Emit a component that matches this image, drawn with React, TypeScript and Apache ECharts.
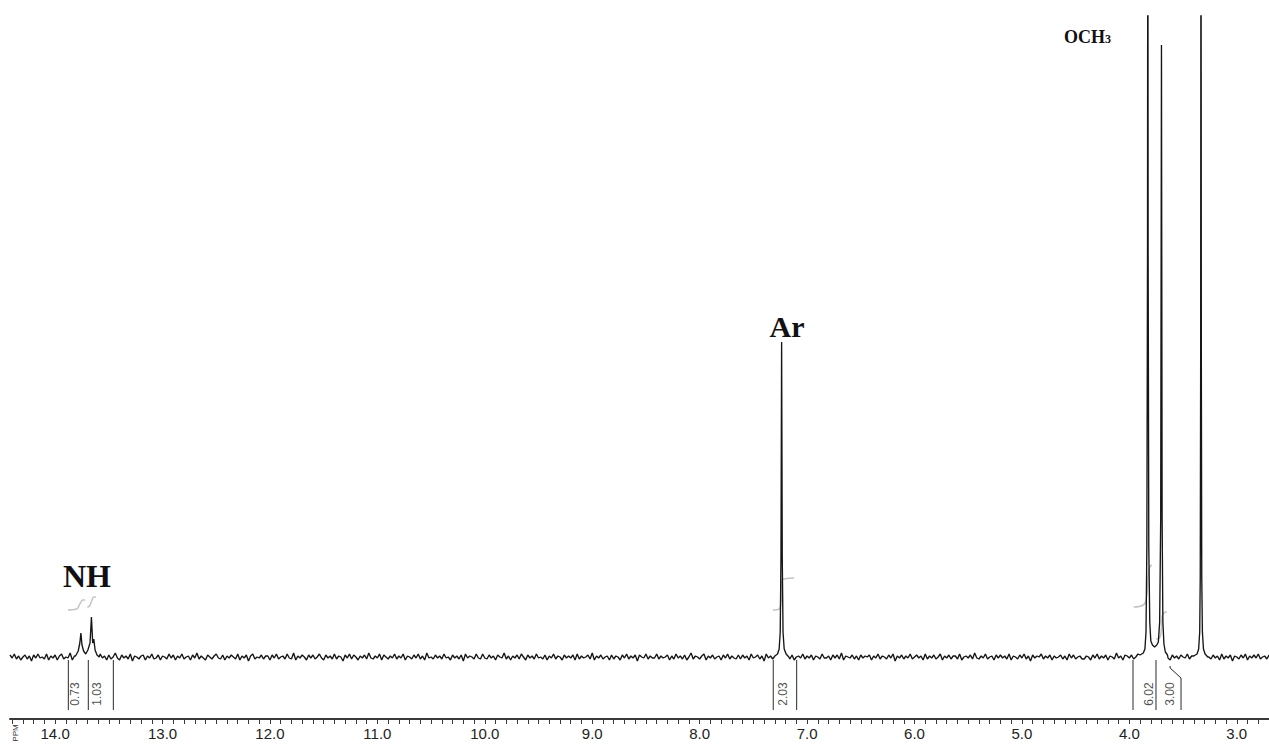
import React, { useEffect, useRef } from "react";
import * as echarts from "echarts";

// ---- axis range (ppm, drawn right-to-left) ----
const PPM_MIN = 2.7;
const PPM_MAX = 14.42;
const majorTickValues = [14, 13, 12, 11, 10, 9, 8, 7, 6, 5, 4, 3];

// ---- baseline noise samples (ppm start / step, intensity values) ----
const NOISE_START = 14.42;
const NOISE_STEP = 0.02;
const baselineNoise = [
  2, -1, 3, -2, 1, -3, 0, 2, -2, 1, -4, 2, -1, 3, -1, 0, -2, 3, -3, 1,
  -1, 2, -3, 1, 3, -2, 0, -1, 4, -3, 1, -2, 2, -1, 0, 3, -2, 1, -3, 2,
  0, -2, 3, -1, 1, -3, 2, -2, 0, 4, -1, -3, 2, -1, 1, -2, 3, -4, 1, 0,
  -2, 1, 2, -3, 1, -1, 3, -2, -1, 2, -3, 1, 0, -2, 3, -1, 2, -3, 1, -1,
  3, -2, 0, 1, -3, 2, -1, 4, -2, 1, -1, -3, 2, 0, -2, 1, 3, -1, -2, 2,
  -3, 1, -1, 2, 0, -2, 3, -3, 1, -1, 2, -4, 1, 3, -2, 0, -1, 2, -2, 1,
  1, -3, 2, -1, 3, -2, 0, 1, -2, 3, -1, -2, 4, -3, 1, -1, 2, 0, -3, 2,
  -1, 2, -2, 0, 3, -1, -3, 2, -1, 1, -2, 3, -2, 1, 0, -4, 2, -1, 3, -2,
  2, 0, -3, 1, -1, 2, -2, 4, -1, -2, 1, -1, 3, -3, 2, 0, -2, 1, -1, 3,
  -2, 1, -1, 3, -3, 1, 0, -2, 2, -1, 3, -2, 1, -3, 4, -1, 0, -2, 2, -1,
  1, -2, 3, -1, 0, -3, 2, -1, 1, -2, 2, -4, 3, -1, 1, 0, -2, 3, -1, -2,
  3, -1, -2, 2, -1, 1, -3, 2, 0, -1, 4, -2, 1, -3, 1, -1, 2, -2, 3, 0,
  -3, 2, -1, 1, -2, 3, -1, 0, -2, 2, -3, 1, -1, 3, -2, 1, 0, -3, 2, -1,
  1, -1, 2, -3, 3, -2, 1, -1, 0, 2, -2, 4, -3, 1, -1, 2, -2, 0, 1, -3,
  2, -2, 1, 0, -3, 2, -1, 3, -2, 1, -1, 2, -4, 2, 0, -1, 3, -2, 1, -1,
  -1, 3, -2, 1, -1, 0, 2, -3, 1, -2, 3, -1, 1, -2, 2, -3, 0, 4, -2, 1,
  0, -2, 1, 3, -3, 1, -1, 2, -2, 0, 1, -3, 2, -1, 3, -2, 1, -1, -2, 2,
  -2, 2, -1, 1, -3, 3, -1, 0, 2, -2, 1, -4, 3, -1, 1, -2, 2, 0, -3, 1,
  3, -1, 1, -2, 2, -3, 0, 1, -1, 3, -2, 1, -1, 2, -3, 1, 0, -2, 3, -1,
  -1, 1, -3, 2, -1, 2, -2, 4, -3, 1, 0, -1, 2, -2, 1, -3, 2, -1, 1, 0,
  2, -3, 1, -1, 3, -2, 1, 0, -2, 2, -1, 3, -4, 1, -1, 2, -2, 1, -1, 3,
  -2, 0, 2, -1, 1, -3, 3, -2, 1, -1, 2, -2, 0, 3, -3, 1, -1, 2, -2, 1,
  1, -2, 3, -3, 0, 1, -1, 2, -2, 4, -1, -2, 1, -1, 3, -2, 0, 1, -3, 2,
  -1, 2, -1, 1, -2, 3, -3, 1, 0, -2, 2, -1, 3, -2, 1, -4, 2, -1, 1, 0,
  3, -2, 1, -1, 2, -3, 1, -1, 0, 2, -2, 1, -3, 3, -1, 2, -2, 0, 1, -2,
  -2, 1, 0, -3, 2, -1, 3, -2, 1, -1, 2, -3, 1, 0, -2, 4, -1, 1, -3, 2,
  1, -1, 2, -2, 0, 3, -3, 1, -1, 2, -2, 1, -1, 3, -2, 0, 2, -3, 1, -1,
  -3, 2, -1, 1, -2, 2, 0, -1, 3, -2, 1, -3, 2, -1, 1, -2, 3, -1, 0, -2,
  2, -1, 1, -3, 3, -2, 1, -1, 2, -4, 1, 0, -2, 2, -1, 3, -3, 1, -1, 2,
  -1, 3, -2, 0, 1, -2, 2, -1, 1, -3, 2, -1, 3, -2, 0, 1, -1, 2, -3, 1,
];

// ---- peaks: [ppm, intensity] ----
const nhPeaks = [
  [13.81, 1], [13.785, 6], [13.77, 14], [13.76, 24], [13.75, 12], [13.735, 6],
  [13.715, 3], [13.695, 7], [13.675, 14], [13.662, 40], [13.65, 14], [13.64, 18],
  [13.628, 7], [13.61, 2], [13.59, 0],
];
const arPeak = [
  [7.3, 1], [7.275, 3], [7.26, 8], [7.25, 25], [7.243, 100], [7.237, 315],
  [7.231, 100], [7.224, 25], [7.213, 8], [7.195, 3], [7.17, 0],
];
const och3Peaks = [
  [3.9, 2], [3.87, 4], [3.855, 8], [3.845, 25], [3.837, 110], [3.831, 400],
  [3.828, 900], [3.825, 400], [3.819, 110], [3.81, 35], [3.8, 16], [3.785, 12],
  [3.765, 10], [3.745, 12], [3.73, 15], [3.718, 35], [3.708, 140], [3.701, 612],
  [3.695, 140], [3.688, 35], [3.678, 13], [3.665, 5], [3.645, 2],
];
const waterPeak = [
  [3.4, 1], [3.37, 3], [3.355, 8], [3.345, 25], [3.34, 80], [3.336, 300],
  [3.333, 900], [3.33, 300], [3.326, 80], [3.32, 25], [3.31, 8], [3.295, 3], [3.27, 0],
];

// ---- integration brackets and values ----
const integralBrackets = [
  [[13.877, -3], [13.877, -53]],
  [[13.691, -3], [13.691, -53]],
  [[13.458, -3], [13.458, -53]],
  [[7.315, -3], [7.315, -53]],
  [[7.097, -3], [7.097, -53]],
  [[3.966, -3], [3.966, -53]],
  [[3.752, -3], [3.752, -53]],
  [[3.621, -9], [3.621, -11], [3.519, -21], [3.519, -53]],
];
const integralPpm = [13.815, 13.61, 7.224, 3.817, 3.625];
const integralLabels = ["0.73", "1.03", "2.03", "6.02", "3.00"];

// ---- integral curves (faint) ----
const integralCurves = [
  [[13.88, 47], [13.8, 48], [13.77, 53], [13.74, 57], [13.72, 57]],
  [[13.7, 50], [13.68, 51], [13.66, 56], [13.64, 60], [13.62, 60]],
  [[7.32, 47], [7.26, 48], [7.24, 60], [7.235, 76], [7.22, 78], [7.12, 79]],
  [[3.96, 50], [3.87, 52], [3.84, 60], [3.825, 80], [3.81, 90], [3.79, 92]],
  [[3.75, 18], [3.72, 19], [3.705, 25], [3.695, 40], [3.68, 44], [3.65, 45]],
];

function buildSpectrum() {
  const peaks = [nhPeaks, arPeak, och3Peaks, waterPeak];
  const ranges = peaks.map((p) => {
    const xs = p.map((q) => q[0]);
    return [Math.min(...xs), Math.max(...xs)];
  });
  const pts: number[][] = [];
  baselineNoise.forEach((v, i) => {
    const ppm = +(NOISE_START - i * NOISE_STEP).toFixed(3);
    if (ppm < PPM_MIN) return;
    if (ranges.some(([lo, hi]) => ppm >= lo && ppm <= hi)) return;
    pts.push([ppm, v]);
  });
  peaks.forEach((p) => p.forEach((q) => pts.push(q)));
  pts.sort((a, b) => b[0] - a[0]);
  return pts;
}

export default function App() {
  const ref = useRef<HTMLDivElement>(null);
  useEffect(() => {
    if (!ref.current) return;
    const chart = echarts.init(ref.current, null, { renderer: "svg" });
    const minorTicks: number[] = [];
    for (let k = 27; k <= 144; k++) minorTicks.push(k / 10);

    const series: any[] = [
      {
        type: "line",
        data: buildSpectrum(),
        showSymbol: false,
        symbol: "none",
        lineStyle: { color: "#151515", width: 1.35 },
        z: 3,
      },
    ];
    integralCurves.forEach((c) =>
      series.push({
        type: "line",
        data: c,
        showSymbol: false,
        symbol: "none",
        smooth: true,
        lineStyle: { color: "#c4c4c4", width: 1.5 },
        z: 2,
      })
    );
    integralBrackets.forEach((b) =>
      series.push({
        type: "line",
        data: b,
        showSymbol: false,
        symbol: "none",
        lineStyle: { color: "#2a2a2a", width: 1 },
        z: 2,
      })
    );
    series.push({
      type: "scatter",
      symbolSize: 0,
      data: integralPpm.map((p, i) => ({ value: [p, -37], name: integralLabels[i] })),
      label: {
        show: true,
        position: "inside",
        rotate: 90,
        formatter: (p: any) => p.name,
        fontSize: 12,
        fontFamily: "Liberation Sans",
        color: "#222",
      },
      z: 4,
    });

    chart.setOption({
      animation: false,
      backgroundColor: "#ffffff",
      grid: { left: 10, right: 0, top: 16, bottom: 25 },
      xAxis: {
        type: "value",
        inverse: true,
        min: PPM_MIN,
        max: PPM_MAX,
        axisLine: { show: true, onZero: false, lineStyle: { color: "#3a3a3a", width: 2 } },
        axisTick: {
          show: true,
          customValues: minorTicks,
          length: 5,
          lineStyle: { color: "#3a3a3a", width: 1 },
        },
        axisLabel: {
          customValues: majorTickValues,
          formatter: (v: number) => v.toFixed(1),
          fontSize: 15,
          fontFamily: "Liberation Sans",
          color: "#222",
          margin: 7,
        },
        splitLine: { show: false },
      },
      yAxis: {
        type: "value",
        min: -62,
        max: 641,
        show: false,
        splitLine: { show: false },
      },
      graphic: [
        {
          type: "text",
          x: 87,
          y: 576,
          style: {
            text: "NH",
            font: 'bold 32px "Liberation Serif"',
            fill: "#111",
            align: "center",
            verticalAlign: "middle",
          },
        },
        {
          type: "text",
          x: 787,
          y: 326,
          style: {
            text: "Ar",
            font: 'bold 30px "Liberation Serif"',
            fill: "#111",
            align: "center",
            verticalAlign: "middle",
          },
        },
        {
          type: "text",
          x: 1064,
          y: 46,
          style: {
            text: "OCH",
            font: 'bold 18px "Liberation Serif"',
            fill: "#111",
            align: "left",
            verticalAlign: "bottom",
          },
        },
        {
          type: "text",
          x: 1105,
          y: 45,
          style: {
            text: "3",
            font: 'bold 12px "Liberation Serif"',
            fill: "#111",
            align: "left",
            verticalAlign: "bottom",
          },
        },
        {
          type: "text",
          x: 15,
          y: 733,
          rotation: Math.PI / 2,
          style: {
            text: "PPM",
            font: '8px "Liberation Sans"',
            fill: "#333",
            align: "center",
            verticalAlign: "middle",
          },
        },
      ],
      series,
    });
    return () => chart.dispose();
  }, []);
  return (
    <div
      ref={ref}
      style={{ position: "fixed", left: 0, top: 0, width: 1269, height: 744, background: "#fff" }}
    />
  );
}
